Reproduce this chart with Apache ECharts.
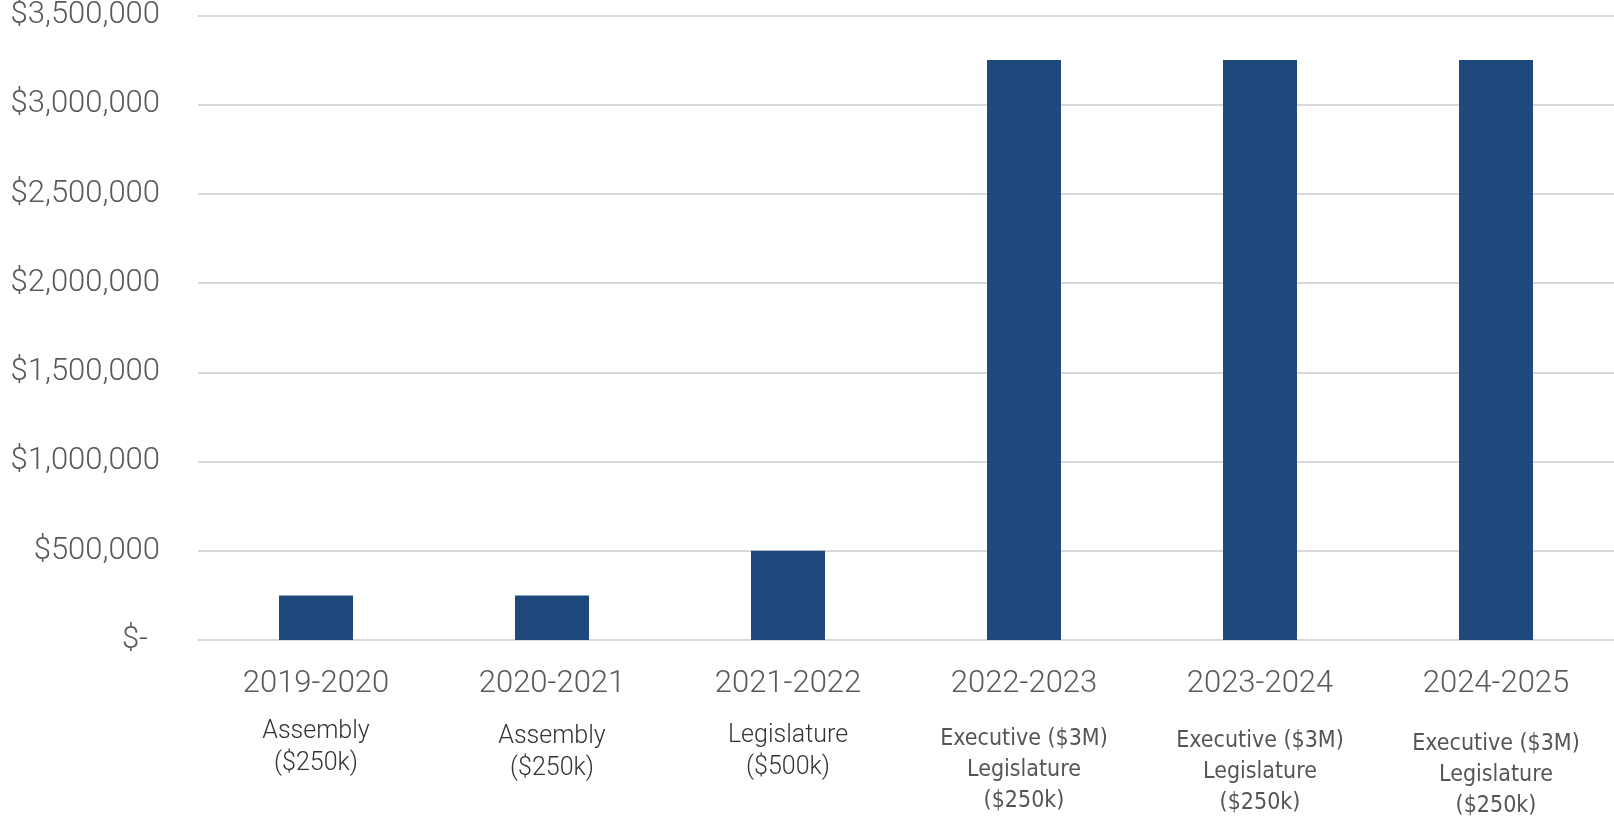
<!DOCTYPE html>
<html>
<head>
<meta charset="utf-8">
<script src="https://cdn.jsdelivr.net/npm/echarts@6/dist/echarts.min.js"></script>
<style>
html,body{margin:0;padding:0;background:#fff;}
#c{width:1614px;height:821px;}
</style>
</head>
<body>
<div id="c"></div>
<script>
const years = ['2019-2020','2020-2021','2021-2022','2022-2023','2023-2024','2024-2025'];
const notes = [
  ['Assembly','($250k)'],
  ['Assembly','($250k)'],
  ['Legislature','($500k)'],
  ['Executive ($3M)','Legislature','($250k)'],
  ['Executive ($3M)','Legislature','($250k)'],
  ['Executive ($3M)','Legislature','($250k)']
];
const funding = [250000, 250000, 500000, 3250000, 3250000, 3250000];
const yTicks = [0, 500000, 1000000, 1500000, 2000000, 2500000, 3000000, 3500000];

// styling only: vertical gap before the note lines, per category
const gaps = [14, 19, 18, 22, 24, 27];
const condensed = [false, false, false, true, true, true];

const rich = {
  y: {fontSize: 31, lineHeight: 36, color: '#595959', fontFamily: 'Roboto', fontWeight: 300},
  s: {fontSize: 25, lineHeight: 32, color: '#333333', fontFamily: 'Roboto', fontWeight: 300},
  c: {fontSize: 23, lineHeight: 31, color: '#555555', fontFamily: "'DejaVu Sans Condensed',Roboto"},
  z: {fontSize: 31, color: '#595959', fontFamily: 'Roboto', fontWeight: 300, padding: [0, 12, 0, 0]}
};
gaps.forEach((g, i) => { rich['g' + i] = {fontSize: 2, lineHeight: g}; });

const chart = echarts.init(document.getElementById('c'));
chart.setOption({
  animation: false,
  grid: {left: 198, right: 0, top: 14, bottom: 181, containLabel: false},
  xAxis: {
    type: 'category',
    data: years,
    axisLine: {lineStyle: {color: '#d9d9d9', width: 2}},
    axisTick: {show: false},
    axisLabel: {
      margin: 26,
      interval: 0,
      verticalAlign: 'top',
      formatter: function (v, i) {
        const st = condensed[i] ? 'c' : 's';
        return '{y|' + v + '}\n{g' + i + '| }\n' + notes[i].map(t => '{' + st + '|' + t + '}').join('\n');
      },
      rich: rich
    }
  },
  yAxis: {
    type: 'value',
    min: yTicks[0],
    max: yTicks[yTicks.length - 1],
    interval: yTicks[1] - yTicks[0],
    axisLine: {show: false},
    axisTick: {show: false},
    splitLine: {lineStyle: {color: '#d9d9d9', width: 2}},
    axisLabel: {
      margin: 38,
      fontSize: 31,
      fontWeight: 300,
      color: '#595959',
      fontFamily: 'Roboto',
      formatter: function (v) {
        if (v === 0) return '{z|$-}';
        return '$' + v.toLocaleString('en-US');
      },
      rich: rich
    }
  },
  series: [{
    type: 'bar',
    data: funding,
    barWidth: 74,
    itemStyle: {color: '#1f497d'}
  }]
});
</script>
</body>
</html>
